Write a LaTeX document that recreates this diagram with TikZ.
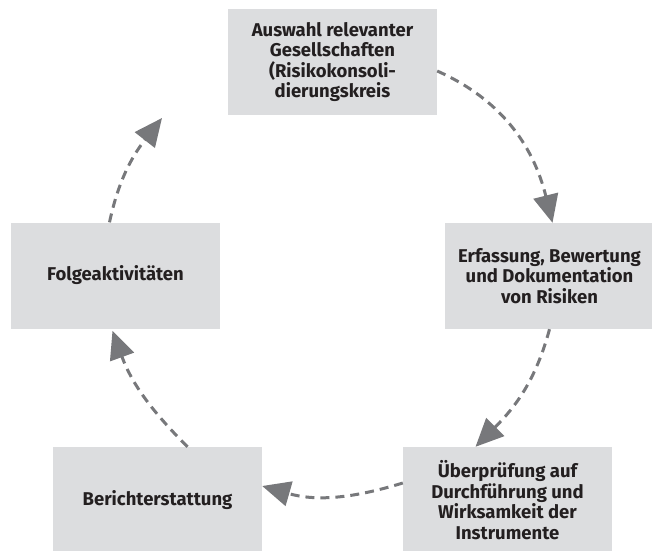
\documentclass[tikz,border=0pt]{standalone}
\usepackage{fontspec}
\setmainfont{Fira Sans}
\usetikzlibrary{arrows.meta}
\definecolor{boxgrey}{HTML}{DCDDDF}
\definecolor{arrowgrey}{HTML}{77787B}
\definecolor{textdark}{HTML}{231F20}
\begin{document}
\begin{tikzpicture}[x=1pt,y=-1pt,
  procbox/.style={fill=boxgrey, minimum width=209pt, minimum height=106pt, inner sep=0pt,
    align=center, text=textdark, font=\fontsize{18.5}{20.5}\selectfont\bfseries},
  flow/.style={draw=arrowgrey, line width=3pt, dash pattern=on 9pt off 6pt,
    -{Triangle[length=28pt,width=25pt,fill=arrowgrey]}}]
\useasboundingbox (0,0) rectangle (652,550);
\node[procbox] (a) at (332.5,62) {Auswahl relevanter\\Gesellschaften\\(Risikokonsoli-\\dierungskreis};
\node[procbox] (b) at (549.5,276) {Erfassung, Bewertung\\und Dokumentation\\von Risiken};
\node[procbox] (c) at (507.5,500) {Überprüfung auf\\Durchführung und\\Wirksamkeit der\\Instrumente};
\node[procbox] (d) at (157.5,500) {Berichterstattung};
\node[procbox] (e) at (115.5,275.5) {Folgeaktivitäten};
\coordinate (ahead) at (162,118);
\draw[flow] ([yshift=-9pt]a.east) to[out=-24, in=104] ([xshift=3pt]b.north);
\draw[flow] (b.south) to[out=-105, in=45] ([xshift=-32pt]c.north);
\draw[flow] ([yshift=17pt]c.west) to[out=197, in=-16] ([yshift=14pt]d.east);
\draw[flow] ([xshift=30pt]d.north) to[out=135, in=-70] ([xshift=-3pt,yshift=-2pt]e.south);
\draw[flow] ([xshift=-6pt]e.north) to[out=78, in=-128] (ahead);
\end{tikzpicture}
\end{document}
